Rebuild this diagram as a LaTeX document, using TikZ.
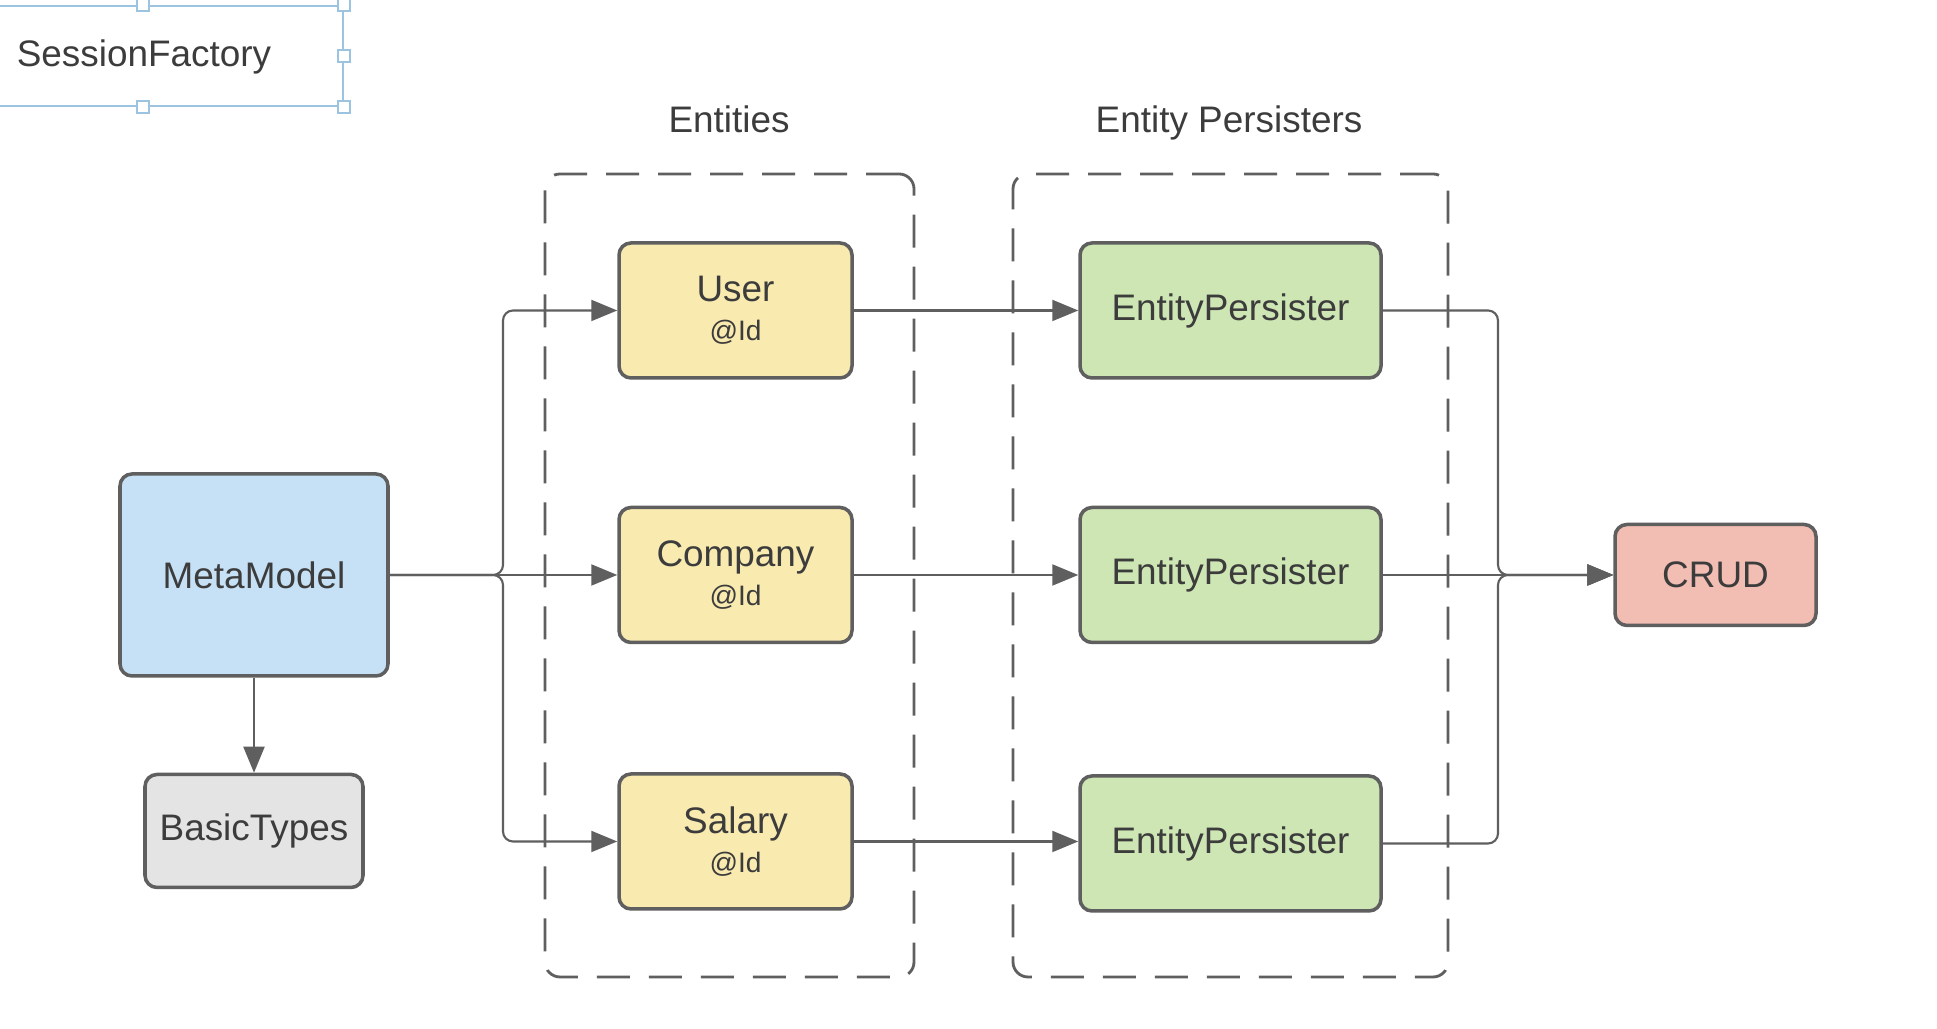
\documentclass[tikz,border=0pt]{standalone}
\usepackage{fontspec}
\setmainfont{Liberation Sans}
\usepackage{tikz}
\usetikzlibrary{arrows.meta,positioning}
\definecolor{lcblue}{HTML}{C6E1F5}
\definecolor{lcyellow}{HTML}{F9EAB0}
\definecolor{lcgreen}{HTML}{CDE6B4}
\definecolor{lcred}{HTML}{F2BDB2}
\definecolor{lcgray}{HTML}{E4E4E4}
\definecolor{lcline}{HTML}{5F5F5F}
\definecolor{lctext}{HTML}{3C3C3C}
\definecolor{lcsel}{HTML}{9CC3DF}
\newcommand{\idtag}{{\fontsize{8}{10}\selectfont @Id}}

\begin{document}
\begin{tikzpicture}[font=\fontsize{10.5}{12.5}\selectfont, text=lctext,
  box/.style={rectangle,rounded corners=1.2mm,draw=lcline,line width=1pt,align=center,inner sep=2pt},
  ent/.style={box,fill=lcyellow,minimum width=2.33cm,minimum height=1.35cm},
  pers/.style={box,fill=lcgreen,minimum width=3.01cm,minimum height=1.35cm},
  grp/.style={rectangle,rounded corners=1.5mm,draw=lcline,line width=0.8pt,dash pattern=on 3.3mm off 1.9mm},
  handle/.style={rectangle,draw=lcsel,fill=white,line width=0.6pt,minimum size=1.2mm,inner sep=0pt},
  ar/.style={-{Triangle[length=2.6mm,width=2.1mm]},line width=0.6pt,draw=lcline,rounded corners=1mm}]
  \fill[white] (0,0) rectangle (19.37,10.29);
  \useasboundingbox (0,0) rectangle (19.37,10.29);

  % selected shape in the editor
  \node[rectangle,draw=lcsel,line width=0.8pt,minimum width=4cm,minimum height=1cm] (sel) at (1.43,9.73) {};
  \node[anchor=base] (sf) at (1.44,9.62) {SessionFactory};
  \foreach \a in {north,north east,east,south east,south}
    \node[handle] (h-\a) at (sel.\a) {};

  % groups
  \node[grp,minimum width=3.69cm,minimum height=8.03cm] (entgrp) at (7.295,4.535) {};
  \node[grp,minimum width=4.35cm,minimum height=8.03cm] (persgrp) at (12.305,4.535) {};
  \node[anchor=base] (entlbl) at (7.29,8.96) {Entities};
  \node[anchor=base] (perslbl) at (12.29,8.96) {Entity Persisters};

  % nodes
  \node[box,fill=lcblue,minimum width=2.68cm,minimum height=2.02cm] (meta) at (2.54,4.54) {MetaModel};
  \node[box,fill=lcgray,minimum width=2.18cm,minimum height=1.13cm] (basic) at (2.54,1.98) {BasicTypes};
  \node[ent] (user) at (7.355,7.185) {User\\[-1.5pt] \idtag};
  \node[ent] (company) at (7.355,4.54) {Company\\[-1.5pt] \idtag};
  \node[ent] (salary) at (7.355,1.875) {Salary\\[-1.5pt] \idtag};
  \node[pers] (p1) at (12.305,7.185) {EntityPersister};
  \node[pers] (p2) at (12.305,4.54) {EntityPersister};
  \node[pers] (p3) at (12.305,1.855) {EntityPersister};
  \node[box,fill=lcred,minimum width=2.01cm,minimum height=1.01cm] (crud) at (17.155,4.54) {CRUD};

  \coordinate (split) at (5.03,4.54);
  \coordinate (merge) at (14.98,4.54);

  % connectors
  \draw[ar] (meta) -- (basic);
  \draw[ar] (meta.east) -- (split) |- (user.west);
  \draw[ar] (meta.east) -- (company.west);
  \draw[ar] (meta.east) -- (split) |- (salary.west);
  \draw[ar] (user.east) -- (p1.west);
  \draw[ar] (company.east) -- (p2.west);
  \draw[ar] (salary.east) -- (salary.east -| p3.west);
  \draw[ar] (p1.east) -| (merge) -- (crud.west);
  \draw[ar] (p2.east) -- (crud.west);
  \draw[ar] (p3.east) -| (merge) -- (crud.west);
\end{tikzpicture}
\end{document}
